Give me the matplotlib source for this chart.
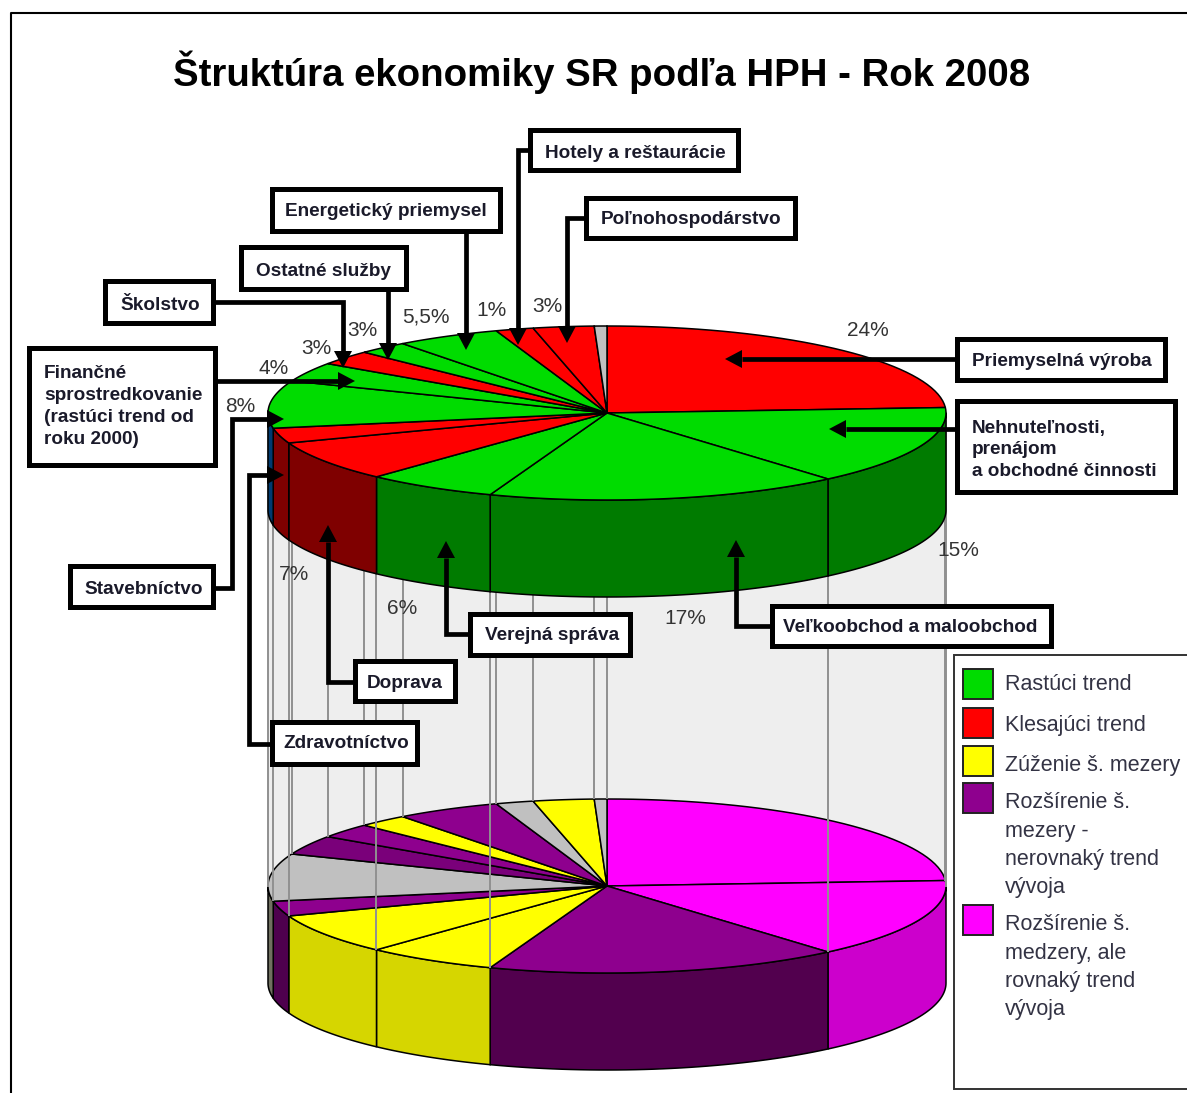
import numpy as np
import matplotlib
matplotlib.use("Agg")
import matplotlib.pyplot as plt
from matplotlib.patches import Polygon, Rectangle

plt.rcParams['font.family'] = ['Liberation Sans', 'DejaVu Sans']

# Slice shares in percent, clockwise from 12 o'clock
sectors = ['Priemyselná výroba', 'Nehnuteľnosti', 'Veľkoobchod', 'Verejná správa', 'Doprava',
           'Zdravotníctvo', 'Stavebníctvo', 'Finančné', 'Školstvo', 'Ostatné služby',
           'Energetický', 'Hotely', 'Poľnohospodárstvo', 'ostatné']
shares = [24, 14.7, 16.9, 6.3, 7.5, 2.8, 8.8, 3.6, 2.7, 2.4, 5, 1.8, 2.9, 0.6]

upper_top = ['#ff0000', '#00dc00', '#00dc00', '#00dc00', '#ff0000', '#ff0000', '#00dc00',
             '#00dc00', '#ff0000', '#00dc00', '#00dc00', '#ff0000', '#ff0000', '#c0c0c0']
upper_side = ['#7f0000', '#007b00', '#007b00', '#007b00', '#7f0000', '#7f0000', '#003a70',
              '#007b00', '#7f0000', '#007b00', '#007b00', '#7f0000', '#7f0000', '#808080']
lower_top = ['#ff00ff', '#ff00ff', '#8e008e', '#ffff00', '#ffff00', '#8e008e', '#c0c0c0',
             '#7a007a', '#8e008e', '#ffff00', '#8e008e', '#c0c0c0', '#ffff00', '#c0c0c0']
lower_side = ['#cc00cc', '#cc00cc', '#52004e', '#d6d600', '#d6d600', '#4e004e', '#707060',
              '#52004e', '#52004e', '#d6d600', '#52004e', '#808080', '#d6d600', '#808080']

pct_labels = ['24%', '15%', '17%', '6%', '7%', '8%', '4%', '3%', '3%', '5,5%', '1%', '3%']
legend_labels = [['Rastúci trend'], ['Klesajúci trend'], ['Zúženie š. mezery'],
                 ['Rozšírenie š.', 'mezery -', 'nerovnaký trend', 'vývoja'],
                 ['Rozšírenie š.', 'medzery, ale', 'rovnaký trend', 'vývoja']]
legend_colors = ['#00dc00', '#ff0000', '#ffff00', '#8e008e', '#ff00ff']

# Geometry of the two discs
cx, rx, ry, depth = 607, 339, 87, 97
cy_up, cy_low = 413, 886

edges = np.cumsum([0] + shares) / sum(shares) * 360

fig = plt.figure(figsize=(11.87, 10.93), dpi=100, facecolor='white')
ax = fig.add_axes([0, 0, 1, 1])
ax.set_xlim(0, 1187)
ax.set_ylim(1093, 0)
ax.axis('off')


def ell(a, cy):
    a = np.radians(a)
    return cx + rx * np.sin(a), cy - ry * np.cos(a)


def draw_pie(cy, tops, sides, z):
    # sides first, only the front half shows
    for i in range(len(shares)):
        a0, a1 = max(edges[i], 90), min(edges[i + 1], 270)
        if a1 <= a0:
            continue
        t = np.linspace(a0, a1, 40)
        x, y = ell(t, cy)
        pts = np.r_[np.c_[x, y], np.c_[x, y + depth][::-1]]
        ax.add_patch(Polygon(pts, fc=sides[i], ec='black', lw=1.1, zorder=z))
    for i in range(len(shares)):
        t = np.linspace(edges[i], edges[i + 1], 40)
        x, y = ell(t, cy)
        pts = np.r_[[[cx, cy]], np.c_[x, y]]
        ax.add_patch(Polygon(pts, fc=tops[i], ec='black', lw=1.1, zorder=z + 0.1))


# grey wall between the discs
ax.add_patch(Rectangle((cx - rx, cy_up), 2 * rx, cy_low - cy_up, fc='#eeeeee', ec='none', zorder=1))
draw_pie(cy_low, lower_top, lower_side, 2)
# drop lines go over the lower disc but behind the upper one
for a in edges[:-1]:
    x, y = ell(a, cy_up)
    x2, y2 = ell(a, cy_low)
    ax.plot([x, x2], [y, y2], color='#909090', lw=1.4, zorder=3, solid_capstyle='butt')
ax.plot([cx - rx, cx - rx], [cy_up, cy_low], color='#909090', lw=1.4, zorder=3)
ax.plot([cx + rx, cx + rx], [cy_up, cy_low], color='#909090', lw=1.4, zorder=3)
draw_pie(cy_up, upper_top, upper_side, 4)

# frame and title
ax.plot([11, 11, 1187], [1093, 13, 13], color='black', lw=1.5, zorder=1)
ax.text(602, 72, 'Štruktúra ekonomiky SR podľa HPH - Rok 2008', fontsize=27.6, fontweight='bold',
        ha='center', va='center', color='black')

# percent labels
pct_xy = [(868, 330), (958, 550), (685, 618), (402, 608), (294, 574), (240, 407),
          (274, 368), (316, 349), (362, 330), (426, 317), (492, 310), (547, 306)]
for lab, (x, y) in zip(pct_labels, pct_xy):
    ax.text(x, y, lab, fontsize=15, color='#333333', ha='center', va='center', zorder=5)


def arrow(pts):
    # last segment ends in a filled triangle, tip exactly on the last point
    (x0, y0), (x1, y1) = pts[-2], pts[-1]
    d = np.hypot(x1 - x0, y1 - y0)
    ux, uy = (x1 - x0) / d, (y1 - y0) / d
    bx, by = x1 - 17 * ux, y1 - 17 * uy
    xs = [p[0] for p in pts[:-1]] + [bx]
    ys = [p[1] for p in pts[:-1]] + [by]
    ax.plot(xs, ys, color='black', lw=3.4, zorder=6, solid_joinstyle='miter', solid_capstyle='butt')
    head = [(x1, y1), (bx - 9 * uy, by + 9 * ux), (bx + 9 * uy, by - 9 * ux)]
    ax.add_patch(Polygon(head, fc='black', ec='none', zorder=6))


def box(x0, y0, x1, y1, lines, tx, tys):
    ax.add_patch(Rectangle((x0, y0), x1 - x0, y1 - y0, fc='white', ec='black', lw=3.6, zorder=7))
    for t, ty in zip(lines, tys):
        ax.text(tx, ty + 2, t, fontsize=13.7, fontweight='bold', color='#1a1a2a', ha='left', va='center', zorder=8)


arrow([(528, 150), (518, 150), (518, 345)])
arrow([(584, 218), (567, 218), (567, 343)])
arrow([(466, 232), (466, 350)])
arrow([(388, 290), (388, 360)])
arrow([(215, 302), (343, 302), (343, 368)])
arrow([(217, 381), (355, 381)])
arrow([(215, 588), (232, 588), (232, 419), (284, 419)])
arrow([(270, 744), (249, 744), (249, 475), (284, 475)])
arrow([(353, 682), (328, 682), (328, 525)])
arrow([(468, 634), (446, 634), (446, 541)])
arrow([(770, 626), (736, 626), (736, 540)])
arrow([(955, 359), (725, 359)])
arrow([(955, 429), (829, 429)])

box(530, 130, 738, 170, ['Hotely a reštaurácie'], 545, [151])
box(586, 198, 795, 238, ['Poľnohospodárstvo'], 601, [218])
box(272, 189, 500, 231, ['Energetický priemysel'], 285, [210])
box(241, 247, 406, 289, ['Ostatné služby'], 256, [269])
box(105, 281, 213, 323, ['Školstvo'], 120, [304])
box(29, 348, 215, 465, ['Finančné', 'sprostredkovanie', '(rastúci trend od', 'roku 2000)'], 44, [372, 394, 416, 438])
box(957, 339, 1165, 380, ['Priemyselná výroba'], 972, [360])
box(957, 401, 1175, 492, ['Nehnuteľnosti,', 'prenájom', 'a obchodné činnosti'], 972, [426, 448, 470])
box(772, 606, 1051, 646, ['Veľkoobchod a maloobchod'], 783, [626])
box(470, 614, 630, 655, ['Verejná správa'], 485, [634])
box(355, 661, 455, 701, ['Doprava'], 367, [682])
box(272, 722, 417, 764, ['Zdravotníctvo'], 283, [742])
box(70, 566, 213, 607, ['Stavebníctvo'], 84, [588])

# legend
ax.add_patch(Rectangle((954, 655), 260, 434, fc='white', ec='#333333', lw=1.4, zorder=7))
leg_y = [669, 708, 746, 783, 905]
leg_ty = [[683], [723], [763], [801, 829, 857, 885], [923, 951, 979, 1007]]
for c, y, labs, tys in zip(legend_colors, leg_y, legend_labels, leg_ty):
    ax.add_patch(Rectangle((963, y), 30, 30, fc=c, ec='#222222', lw=1.4, zorder=8))
    for t, ty in zip(labs, tys):
        ax.text(1005, ty + 2, t, fontsize=15.5, color='#333344', ha='left', va='center', zorder=8)

fig.savefig('out.png', dpi=100)
